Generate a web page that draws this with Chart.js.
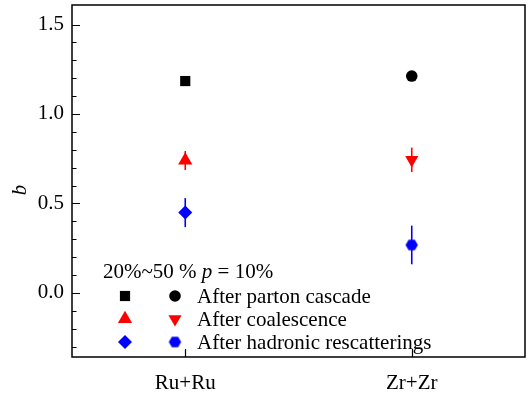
<!DOCTYPE html>
<html>
<head>
<meta charset="utf-8">
<script src="https://cdn.jsdelivr.net/npm/chart.js@4/dist/chart.umd.min.js"></script>
<style>
  body { margin: 0; background: #fff; }
  canvas { display: block; }
</style>
</head>
<body>
<canvas id="chart" width="530" height="398"></canvas>
<script>
// ---- data ----
const systems = ['Ru+Ru', 'Zr+Zr'];
const stages = ['After parton cascade', 'After coalescence', 'After hadronic rescatterings'];
const ruValues = [1.184, 0.74, 0.449];
const ruErrors = [0, 0.053, 0.081];
const zrValues = [1.212, 0.744, 0.268];
const zrErrors = [0, 0.068, 0.108];
const yTickValues = [0, 0.5, 1.0, 1.5];
const yMinorValues = [-0.3, -0.2, -0.1, 0.1, 0.2, 0.3, 0.4, 0.6, 0.7, 0.8, 0.9, 1.1, 1.2, 1.3, 1.4];
const headerText = ['20%~50 % ', 'p', ' = 10%'];

const colors = ['#000000', '#ff0000', '#0000ff'];
const SERIF = '"Liberation Serif", "Times New Roman", serif';

// hexagon marker (not a built-in point style)
function makeHexagon(color, r) {
  const c = document.createElement('canvas');
  const s = Math.ceil(r * 2 + 2);
  c.width = s; c.height = s;
  const g = c.getContext('2d');
  g.fillStyle = color;
  g.beginPath();
  for (let k = 0; k < 6; k++) {
    const a = k * Math.PI / 3;
    const px = s / 2 + r * Math.cos(a), py = s / 2 + r * Math.sin(a);
    if (k === 0) g.moveTo(px, py); else g.lineTo(px, py);
  }
  g.closePath();
  g.fill();
  return c;
}
const hexagon = makeHexagon('#0000ff', 6.2);

// marker look per stage: [Ru+Ru, Zr+Zr]
const markerStyles = [
  { style: ['rect', 'circle'], radius: [7.2, 5.8], rotation: [0, 0] },
  { style: ['triangle', 'triangle'], radius: [8.2, 7.6], rotation: [0, 180] },
  { style: ['rectRot', hexagon], radius: [7, 6.5], rotation: [0, 0] }
];

const datasets = stages.map((name, i) => ({
  label: name,
  data: [
    { x: 1, y: ruValues[i], err: ruErrors[i] },
    { x: 2, y: zrValues[i], err: zrErrors[i] }
  ],
  backgroundColor: colors[i],
  borderColor: colors[i],
  borderWidth: 0,
  pointStyle: markerStyles[i].style,
  pointRadius: markerStyles[i].radius,
  pointRotation: markerStyles[i].rotation,
  showLine: false
}));

// ======================
// PLUGINS
// ======================
const errorBars = {
  id: 'errorBars',
  beforeDatasetsDraw(chart) {
    const ctx = chart.ctx;
    const yScale = chart.scales.y;
    chart.data.datasets.forEach((ds, i) => {
      const meta = chart.getDatasetMeta(i);
      ds.data.forEach((d, j) => {
        if (!d.err) return;
        const px = meta.data[j].x;
        ctx.save();
        ctx.strokeStyle = ds.borderColor;
        ctx.lineWidth = 1.6;
        ctx.beginPath();
        ctx.moveTo(px, yScale.getPixelForValue(d.y + d.err));
        ctx.lineTo(px, yScale.getPixelForValue(d.y - d.err));
        ctx.stroke();
        ctx.restore();
      });
    });
  }
};

const frameAndTicks = {
  id: 'frameAndTicks',
  afterDraw(chart) {
    const { ctx, chartArea: a } = chart;
    const xs = chart.scales.x, ys = chart.scales.y;
    ctx.save();
    ctx.strokeStyle = '#000';
    ctx.lineWidth = 1.5;
    ctx.strokeRect(a.left, a.top, a.right - a.left, a.bottom - a.top);
    ctx.lineWidth = 1.2;
    ctx.beginPath();
    yTickValues.forEach(v => {
      const py = Math.round(ys.getPixelForValue(v)) + 0.5;
      ctx.moveTo(a.left, py); ctx.lineTo(a.left + 8, py);
    });
    yMinorValues.forEach(v => {
      const py = Math.round(ys.getPixelForValue(v)) + 0.5;
      ctx.moveTo(a.left, py); ctx.lineTo(a.left + 4.5, py);
    });
    systems.forEach((s, i) => {
      const px = Math.round(xs.getPixelForValue(i + 1)) + 0.5;
      ctx.moveTo(px, a.bottom); ctx.lineTo(px, a.bottom - 8);
    });
    ctx.stroke();
    ctx.restore();
  }
};

const legendBox = {
  id: 'legendBox',
  afterDraw(chart) {
    const ctx = chart.ctx;
    ctx.save();
    ctx.fillStyle = '#000';
    ctx.textBaseline = 'alphabetic';
    ctx.textAlign = 'left';

    // y axis title
    ctx.save();
    ctx.translate(26, 190);
    ctx.rotate(-Math.PI / 2);
    ctx.font = 'italic 21px ' + SERIF;
    ctx.textAlign = 'center';
    ctx.fillText('b', 0, 0);
    ctx.restore();

    // header line with italic p
    let x = 103;
    headerText.forEach((t, k) => {
      ctx.font = (k === 1 ? 'italic ' : '') + '21px ' + SERIF;
      ctx.fillText(t, x, 278);
      x += ctx.measureText(t).width;
    });

    // rows
    const rowY = [296, 319, 342];
    stages.forEach((name, i) => {
      [125, 175].forEach((mx, j) => {
        ctx.fillStyle = colors[i];
        Chart.helpers.drawPoint(ctx, {
          pointStyle: markerStyles[i].style[j],
          radius: markerStyles[i].radius[j],
          rotation: markerStyles[i].rotation[j],
          borderWidth: 0
        }, mx, rowY[i]);
      });
      ctx.fillStyle = '#000';
      ctx.font = '21px ' + SERIF;
      ctx.fillText(name, 197, rowY[i] + 7);
    });
    ctx.restore();
  }
};

function noPad(s) {
  s.paddingTop = 0; s.paddingBottom = 0;
  s.paddingLeft = 0; s.paddingRight = 0;
}

new Chart(document.getElementById('chart'), {
  type: 'scatter',
  data: { datasets },
  plugins: [errorBars, frameAndTicks, legendBox],
  options: {
    responsive: false,
    animation: false,
    layout: { autoPadding: false, padding: { top: 5, right: 5, left: 0, bottom: 0 } },
    plugins: { legend: { display: false }, tooltip: { enabled: false } },
    scales: {
      x: {
        type: 'linear',
        min: 0.5,
        max: 2.5,
        grid: { display: false, drawTicks: false },
        border: { display: false },
        afterBuildTicks: s => { s.ticks = systems.map((_, i) => ({ value: i + 1 })); },
        afterFit: s => { s.height = 41; noPad(s); },
        ticks: {
          padding: 14,
          color: '#000',
          font: { family: SERIF, size: 21 },
          callback: v => systems[v - 1]
        }
      },
      y: {
        min: -0.358,
        max: 1.609,
        grid: { display: false, drawTicks: false },
        border: { display: false },
        afterBuildTicks: s => { s.ticks = yTickValues.map(v => ({ value: v })); },
        afterFit: s => { s.width = 72; noPad(s); },
        ticks: {
          padding: 8,
          color: '#000',
          font: { family: SERIF, size: 21 },
          callback: v => v.toFixed(1)
        }
      }
    }
  }
});
</script>
</body>
</html>
